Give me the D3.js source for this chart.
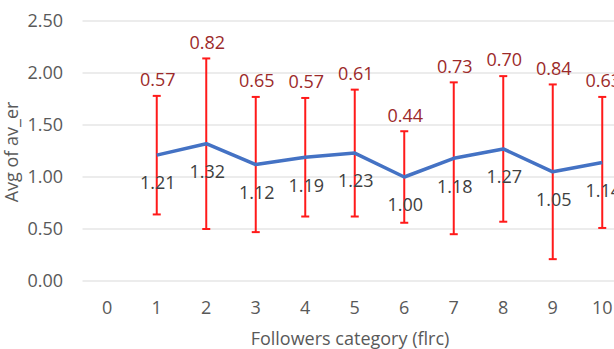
<!DOCTYPE html>
<html>
<head>
<meta charset="utf-8">
<script src="https://cdn.jsdelivr.net/npm/d3@7"></script>
<style>
  body { margin: 0; background: #fff; overflow: hidden; }
  svg { display: block; font-family: "Open Sans", sans-serif; }
</style>
</head>
<body>
<div id="chart"></div>
<script>
// Chart data
const categories = ['0', '1', '2', '3', '4', '5', '6', '7', '8', '9', '10'];
const flrc = ['1', '2', '3', '4', '5', '6', '7', '8', '9', '10'];
const avgEr = [1.21, 1.32, 1.12, 1.19, 1.23, 1.00, 1.18, 1.27, 1.05, 1.14];
const stdEr = [0.57, 0.82, 0.65, 0.57, 0.61, 0.44, 0.73, 0.70, 0.84, 0.63];
const yTicks = [0, 0.5, 1, 1.5, 2, 2.5];

const totalWidth = 614, totalHeight = 349;
// plot area runs past the right edge (the original is cropped there)
const margins = {top: 21, bottom: 68, left: 82.5, right: -13};
const fontSize = '18px';

const svg = d3.select('#chart').append('svg')
  .attr('width', totalWidth)
  .attr('height', totalHeight);

const x = d3.scaleBand().domain(categories)
  .range([margins.left, totalWidth - margins.right]).padding(0);
const y = d3.scaleLinear().domain([0, 2.5])
  .range([totalHeight - margins.bottom, margins.top]);
const cx = d => x(d) + x.bandwidth() / 2;

// gridlines
svg.append('g').attr('class', 'grid')
  .selectAll('line').data(yTicks).enter().append('line')
  .attr('x1', margins.left).attr('x2', totalWidth)
  .attr('y1', d => y(d)).attr('y2', d => y(d))
  .style('stroke', '#d9d9d9').style('stroke-width', 1);

// y tick labels
svg.append('g').attr('class', 'y-labels')
  .selectAll('text').data(yTicks).enter().append('text')
  .attr('x', 63).attr('y', d => y(d))
  .attr('dy', '0.35em').attr('text-anchor', 'end')
  .style('font-size', fontSize).style('fill', '#595959')
  .text(d => d3.format('.2f')(d));

// x tick labels
svg.append('g').attr('class', 'x-labels')
  .selectAll('text').data(categories).enter().append('text')
  .attr('x', d => cx(d)).attr('y', 308)
  .attr('dy', '0.35em').attr('text-anchor', 'middle')
  .style('font-size', fontSize).style('fill', '#595959')
  .text(d => d);

// axis titles
svg.append('text')
  .attr('x', 350).attr('y', 339).attr('dy', '0.35em')
  .attr('text-anchor', 'middle')
  .style('font-size', fontSize).style('fill', '#595959')
  .text('Followers category (flrc)');

svg.append('text')
  .attr('transform', 'translate(' + [12, 152] + ') rotate(-90)')
  .attr('dy', '0.35em').attr('text-anchor', 'middle')
  .style('font-size', fontSize).style('fill', '#595959')
  .text('Avg of av_er');

const points = flrc.map((c, i) => ({cat: c, mean: avgEr[i], std: stdEr[i]}));

// error bars
const errs = svg.append('g').attr('class', 'error-bars')
  .selectAll('g').data(points).enter().append('g');
errs.append('line')
  .attr('x1', d => cx(d.cat)).attr('x2', d => cx(d.cat))
  .attr('y1', d => y(d.mean + d.std)).attr('y2', d => y(d.mean - d.std));
errs.append('line')
  .attr('x1', d => cx(d.cat) - 4).attr('x2', d => cx(d.cat) + 4)
  .attr('y1', d => y(d.mean + d.std)).attr('y2', d => y(d.mean + d.std));
errs.append('line')
  .attr('x1', d => cx(d.cat) - 4).attr('x2', d => cx(d.cat) + 4)
  .attr('y1', d => y(d.mean - d.std)).attr('y2', d => y(d.mean - d.std));
errs.selectAll('line').style('stroke', '#ff1a1a').style('stroke-width', 2);

// mean line
const line = d3.line().x(d => cx(d.cat)).y(d => y(d.mean));
svg.append('path').datum(points)
  .attr('d', line)
  .style('fill', 'none').style('stroke', '#4472c4')
  .style('stroke-width', 3.5).style('stroke-linejoin', 'round');

// std labels
svg.append('g').attr('class', 'std-labels')
  .selectAll('text').data(points).enter().append('text')
  .attr('x', d => cx(d.cat) + 1).attr('y', d => y(d.mean + d.std) - 16)
  .attr('dy', '0.35em').attr('text-anchor', 'middle')
  .style('font-size', fontSize).style('fill', '#9c2a2a')
  .text(d => d3.format('.2f')(d.std));

// mean labels
svg.append('g').attr('class', 'mean-labels')
  .selectAll('text').data(points).enter().append('text')
  .attr('x', d => cx(d.cat) + 1).attr('y', d => y(d.mean) + 28)
  .attr('dy', '0.35em').attr('text-anchor', 'middle')
  .style('font-size', fontSize).style('fill', '#404040')
  .text(d => d3.format('.2f')(d.mean));
</script>
</body>
</html>
